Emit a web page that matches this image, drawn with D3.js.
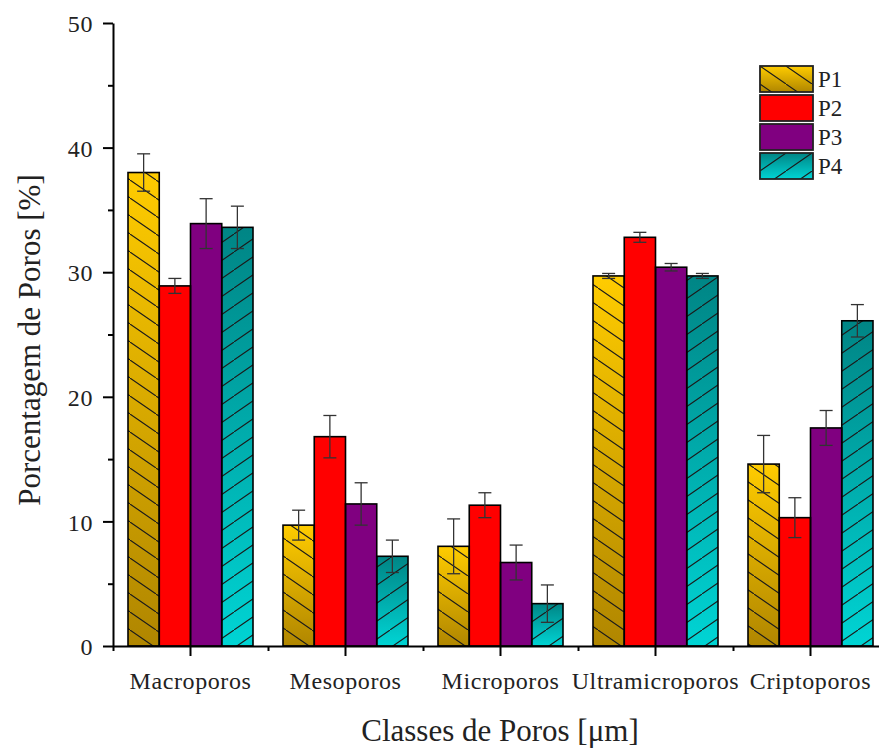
<!DOCTYPE html>
<html>
<head>
  <meta charset="utf-8">
  <title>Classes de Poros</title>
  <style type="text/css">
    body { margin: 0; background-color: #fff; }
    svg { display: block; font-family: "Liberation Serif", "DejaVu Serif", serif; }
    .axis path, .axis line { stroke: #000; stroke-width: 2px; }
    .axis text { font-size: 24px; fill: #222; font-family: "Liberation Serif", serif; letter-spacing: 0.6px; }
  </style>
  <script src="https://d3js.org/d3.v7.min.js"></script>
</head>
<body>
<script>
var categories = ["Macroporos", "Mesoporos", "Microporos", "Ultramicroporos", "Criptoporos"];
var series = ["P1", "P2", "P3", "P4"];
var values = {
  P1: [38.0, 9.7, 8.0, 29.7, 14.6],
  P2: [28.9, 16.8, 11.3, 32.8, 10.3],
  P3: [33.9, 11.4, 6.7, 30.4, 17.5],
  P4: [33.6, 7.2, 3.4, 29.7, 26.1]
};
var errors = {
  P1: [1.5, 1.2, 2.2, 0.2, 2.3],
  P2: [0.6, 1.7, 1.0, 0.4, 1.6],
  P3: [2.0, 1.7, 1.4, 0.3, 1.4],
  P4: [1.7, 1.3, 1.5, 0.2, 1.3]
};
var yTicks = [0, 10, 20, 30, 40, 50];

var width = 879, height = 749;
var svg = d3.select("body").append("svg")
  .attr("width", width)
  .attr("height", height);

var plotLeft = 113, plotBottom = 646, plotTop = 23;

var x0 = d3.scaleBand().domain(categories).range([plotLeft, plotLeft + 5 * 155]).padding(0);
var x1 = d3.scaleBand().domain(series).range([0, x0.bandwidth()]).paddingInner(0).paddingOuter(0.48);
var y = d3.scaleLinear().domain([0, 50]).range([plotBottom, plotTop]);

// fills: gradients + hatches
var defs = svg.append("defs");

var g1 = defs.append("linearGradient").attr("id", "gradP1")
  .attr("x1", 0).attr("y1", 0).attr("x2", 0).attr("y2", 1);
g1.append("stop").attr("offset", "0%").attr("stop-color", "#ffcc00");
g1.append("stop").attr("offset", "100%").attr("stop-color", "#b08600");

var g4 = defs.append("linearGradient").attr("id", "gradP4")
  .attr("x1", 0).attr("y1", 0).attr("x2", 0).attr("y2", 1);
g4.append("stop").attr("offset", "0%").attr("stop-color", "#008585");
g4.append("stop").attr("offset", "100%").attr("stop-color", "#00d4d4");

function hatch(id, forward) {
  var p = defs.append("pattern").attr("id", id)
    .attr("patternUnits", "userSpaceOnUse")
    .attr("width", 26).attr("height", 18);
  var d = forward
    ? "M-13,27 L13,9 M0,18 L26,0 M13,9 L39,-9"
    : "M-13,-9 L13,9 M0,0 L26,18 M13,9 L39,27";
  p.append("path").attr("d", d)
    .attr("stroke", "#1a1a1a").attr("stroke-width", 1.1).attr("fill", "none");
}
hatch("hatchBack", false);
hatch("hatchFwd", true);

var fills = {P1: "url(#gradP1)", P2: "#ff0000", P3: "#800080", P4: "url(#gradP4)"};
var hatches = {P1: "url(#hatchBack)", P4: "url(#hatchFwd)"};

// bars
var bars = [];
series.forEach(function(s) {
  categories.forEach(function(c, i) {
    bars.push({cat: c, s: s, v: values[s][i], e: errors[s][i]});
  });
});

function barX(d) { return x0(d.cat) + x1(d.s); }
function barY(d) { return y(d.v); }
function barH(d) { return y(0) - y(d.v); }

var barG = svg.append("g");
barG.selectAll("rect.bar")
  .data(bars)
  .enter().append("rect")
    .attr("class", "bar")
    .attr("x", barX).attr("y", barY)
    .attr("width", x1.bandwidth()).attr("height", barH)
    .attr("fill", function(d) { return fills[d.s]; });

barG.selectAll("rect.hatch")
  .data(bars.filter(function(d) { return hatches[d.s]; }))
  .enter().append("rect")
    .attr("class", "hatch")
    .attr("x", barX).attr("y", barY)
    .attr("width", x1.bandwidth()).attr("height", barH)
    .attr("fill", function(d) { return hatches[d.s]; });

barG.selectAll("rect.outline")
  .data(bars)
  .enter().append("rect")
    .attr("class", "outline")
    .attr("x", barX).attr("y", barY)
    .attr("width", x1.bandwidth()).attr("height", barH)
    .attr("fill", "none")
    .attr("stroke", "#000")
    .attr("stroke-width", 1.6);

// error bars
var errG = svg.append("g").attr("stroke", "#333").attr("stroke-width", 1.3).attr("fill", "none");
var errs = errG.selectAll("g").data(bars).enter().append("g")
  .attr("transform", function(d) { return "translate(" + (barX(d) + x1.bandwidth() / 2) + ",0)"; });
errs.append("line")
  .attr("y1", function(d) { return y(d.v + d.e); })
  .attr("y2", function(d) { return y(d.v - d.e); });
errs.append("line").attr("x1", -6.5).attr("x2", 6.5)
  .attr("y1", function(d) { return y(d.v + d.e); })
  .attr("y2", function(d) { return y(d.v + d.e); });
errs.append("line").attr("x1", -6.5).attr("x2", 6.5)
  .attr("y1", function(d) { return y(d.v - d.e); })
  .attr("y2", function(d) { return y(d.v - d.e); });

// y axis
var yAxis = svg.append("g").attr("class", "axis")
  .attr("transform", "translate(" + plotLeft + ",0)")
  .call(d3.axisLeft(y).tickValues(yTicks).tickSize(10).tickPadding(10).tickSizeOuter(0));
yAxis.selectAll("text").attr("dy", "0.36em");
svg.append("g").attr("class", "axis")
  .attr("transform", "translate(" + plotLeft + ",0)")
  .call(d3.axisLeft(y).tickValues([5, 15, 25, 35, 45]).tickSize(5).tickFormat("").tickSizeOuter(0))
  .select(".domain").remove();

// x axis
var xAxis = svg.append("g").attr("class", "axis")
  .attr("transform", "translate(0," + plotBottom + ")")
  .call(d3.axisBottom(x0).tickSize(10).tickPadding(16).tickSizeOuter(0));
xAxis.selectAll("text").attr("dy", "0.71em");

var xMinor = d3.scaleLinear().domain([0, 5]).range([plotLeft, plotLeft + 5 * 155]);
svg.append("g").attr("class", "axis")
  .attr("transform", "translate(0," + plotBottom + ")")
  .call(d3.axisBottom(xMinor).tickValues([0, 1, 2, 3, 4, 5]).tickSize(5).tickFormat("").tickSizeOuter(0))
  .select(".domain").remove();

// axis titles
svg.append("text")
  .attr("x", 500).attr("y", 741)
  .attr("text-anchor", "middle")
  .attr("font-size", 31)
  .attr("fill", "#222")
  .text("Classes de Poros [μm]");

svg.append("text")
  .attr("transform", "translate(40,340) rotate(-90)")
  .attr("text-anchor", "middle")
  .attr("font-size", 31)
  .attr("fill", "#222")
  .text("Porcentagem de Poros [%]");

// legend
var legend = svg.append("g").attr("transform", "translate(760,66)");
var items = legend.selectAll("g").data(series).enter().append("g")
  .attr("transform", function(d, i) { return "translate(0," + (i * 29) + ")"; });
items.append("rect").attr("width", 53).attr("height", 26)
  .attr("fill", function(d) { return fills[d]; });
items.filter(function(d) { return hatches[d]; }).append("rect")
  .attr("width", 53).attr("height", 26)
  .attr("fill", function(d) { return hatches[d]; });
items.append("rect").attr("width", 53).attr("height", 26)
  .attr("fill", "none").attr("stroke", "#222").attr("stroke-width", 1.8);
items.append("text")
  .attr("x", 58).attr("y", 13).attr("dy", "0.35em")
  .attr("font-size", 23).attr("fill", "#222")
  .text(function(d) { return d; });
</script>
</body>
</html>
